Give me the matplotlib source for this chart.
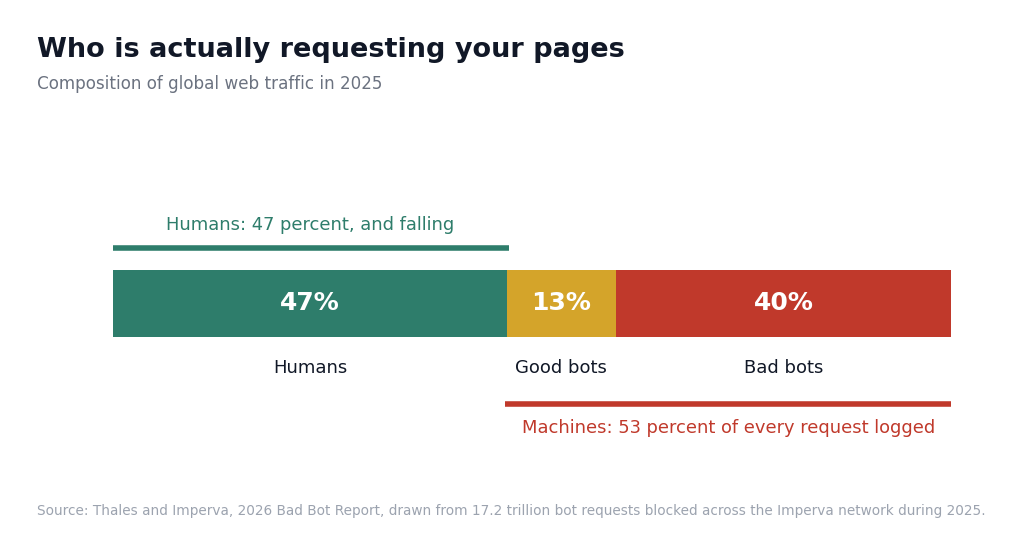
import matplotlib
matplotlib.use("Agg")
import matplotlib.pyplot as plt

# composition of web traffic, 2025
categories = ["Humans", "Good bots", "Bad bots"]
shares = [47, 13, 40]
colors = ["#2e7d6b", "#d4a42a", "#c0392b"]

fig = plt.figure(figsize=(10.24, 5.55), dpi=100)
# axes in percent across, pixel rows down
ax = fig.add_axes([113/1024, 0, 838/1024, 1])
ax.set_xlim(0, 100)
ax.set_ylim(555, 0)
ax.axis("off")

left = 0
for cat, val, col in zip(categories, shares, colors):
    ax.barh(303.5, val, height=67, left=left, color=col)
    mid = left + val / 2
    ax.text(mid, 303.5, f"{val}%", ha="center", va="center",
            color="white", fontsize=18, fontweight="bold")
    ax.text(mid, 368, cat, ha="center", va="center",
            color="#111827", fontsize=13)
    left += val

# brackets
humans = shares[0]
machines = shares[1] + shares[2]
ax.plot([0, humans + 0.2], [248, 248], color="#2e7d6b", lw=4, solid_capstyle="butt")
ax.text(humans / 2, 225, f"Humans: {humans} percent, and falling",
        ha="center", va="center", color="#2e7d6b", fontsize=12.85)
ax.plot([humans - 0.2, 100], [404, 404], color="#c0392b", lw=4, solid_capstyle="butt")
ax.text(humans + machines / 2, 428, f"Machines: {machines} percent of every request logged",
        ha="center", va="center", color="#c0392b", fontsize=12.85)

fig.text(37/1024, 1 - 50/555, "Who is actually requesting your pages",
         ha="left", va="center", fontsize=19.55, fontweight="bold", color="#111827")
fig.text(37/1024, 1 - 84/555, "Composition of global web traffic in 2025",
         ha="left", va="center", fontsize=12.05, color="#6b7280")
fig.text(37/1024, 1 - 511/555,
         "Source: Thales and Imperva, 2026 Bad Bot Report, drawn from 17.2 trillion bot requests blocked across the Imperva network during 2025.",
         ha="left", va="center", fontsize=9.85, color="#9ca3af")

fig.savefig("out.png", dpi=100)
